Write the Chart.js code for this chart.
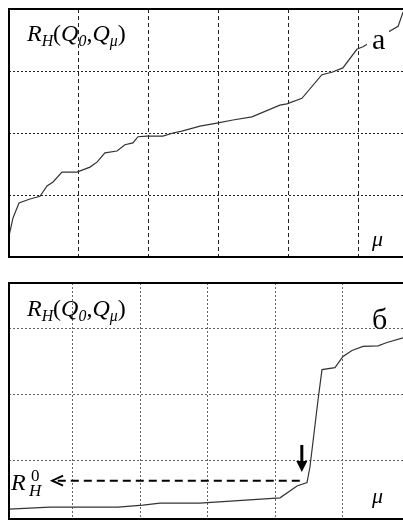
<!DOCTYPE html>
<html>
<head>
<meta charset="utf-8">
<script src="https://cdn.jsdelivr.net/npm/chart.js@4/dist/chart.umd.min.js"></script>
<style>
  html, body { margin: 0; padding: 0; background: #fff; }
  body { width: 403px; height: 523px; position: relative; overflow: hidden; font-family: "Liberation Serif", "DejaVu Serif", serif; }
  canvas { position: absolute; left: 0; }
  .lbl { position: absolute; white-space: nowrap; line-height: 1; color: #000; }
  .lbl i { font-style: italic; }
  .lbl sub { font-size: 0.66em; vertical-align: -0.3em; line-height: 0; }
  .bg { background: #fff; padding: 0 4px 4px 5px; }
</style>
</head>
<body>
<canvas id="chartA" width="403" height="270" style="top:0"></canvas>
<canvas id="chartB" width="403" height="253" style="top:270px"></canvas>

<div class="lbl" style="left:27px; top:21px; font-size:24px"><i>R<sub>H</sub></i>(<i>Q<sub>0</sub></i>,<i>Q<sub>μ</sub></i>)</div>
<div class="lbl bg" style="left:367px; top:24px; font-size:30px">a</div>
<div class="lbl" style="left:372px; top:228px; font-size:22px"><i>μ</i></div>

<div class="lbl" style="left:27px; top:296px; font-size:24px"><i>R<sub>H</sub></i>(<i>Q<sub>0</sub></i>,<i>Q<sub>μ</sub></i>)</div>
<div class="lbl" style="left:372px; top:304px; font-size:30px">б</div>
<div class="lbl" style="left:372px; top:485px; font-size:22px"><i>μ</i></div>
<div class="lbl" style="left:11px; top:470px; font-size:24px"><i>R</i></div>
<div class="lbl" style="left:31px; top:467px; font-size:17px">0</div>
<div class="lbl" style="left:29px; top:482px; font-size:17px"><i>H</i></div>

<script>
// panel a: R_H against mu (x in grid steps)
var muA = [0, 0.057, 0.143, 0.30, 0.443, 0.543, 0.629, 0.757, 0.971, 1.157, 1.257, 1.371, 1.543, 1.657, 1.771, 1.843,
  1.971, 2.2, 2.343, 2.471, 2.729, 2.971, 3.2, 3.471, 3.871, 3.971, 4.186, 4.471, 4.614, 4.771, 4.971, 5.057, 5.56, 5.63];
var rA = [0.34, 0.63, 0.87, 0.935, 0.98, 1.145, 1.21, 1.37, 1.37, 1.45, 1.53, 1.68, 1.71, 1.81, 1.84, 1.94,
  1.95, 1.95, 2.0, 2.03, 2.11, 2.16, 2.21, 2.26, 2.45, 2.47, 2.56, 2.94, 2.98, 3.05, 3.35, 3.39, 3.72, 3.95];

// panel б
var muB = [0.052, 0.66, 1.667, 2.037, 2.289, 2.881, 4.067, 4.319, 4.467, 4.511, 4.63, 4.689, 4.881, 5.0, 5.133, 5.296, 5.519, 5.652, 5.889];
var rB = [0.27, 0.30, 0.30, 0.33, 0.36, 0.36, 0.44, 0.62, 0.67, 0.91, 1.92, 2.38, 2.41, 2.58, 2.67, 2.73, 2.74, 2.79, 2.86];

var gridTicks = [1, 2, 3, 4, 5];
var yTicksA = [1, 2, 3];
var yTicksB = [1, 2, 3];

// R_H^0 marker (panel б)
var r0Level = 0.70;
var r0From = 4.36, r0To = 0.69;
var downX = 4.39, downTop = 1.24, downTip = 0.83;

function points(xs, ys) {
  return xs.map(function (x, i) { return { x: x, y: ys[i] }; });
}

var framePlugin = {
  id: 'frame',
  afterDraw: function (chart) {
    var a = chart.chartArea, ctx = chart.ctx;
    ctx.save();
    ctx.strokeStyle = '#000';
    ctx.lineWidth = 2;
    ctx.beginPath();
    ctx.moveTo(a.right + 2, a.top);
    ctx.lineTo(a.left, a.top);
    ctx.lineTo(a.left, a.bottom);
    ctx.lineTo(a.right + 2, a.bottom);
    ctx.stroke();
    ctx.restore();
  }
};

var arrowPlugin = {
  id: 'arrows',
  afterDatasetsDraw: function (chart) {
    var x = chart.scales.x, y = chart.scales.y, ctx = chart.ctx;
    var yy = y.getPixelForValue(r0Level);
    var x1 = x.getPixelForValue(r0From), x2 = x.getPixelForValue(r0To);
    ctx.save();
    ctx.strokeStyle = '#000';
    ctx.lineWidth = 2;
    ctx.setLineDash([8, 5]);
    ctx.beginPath();
    ctx.moveTo(x1, yy);
    ctx.lineTo(x2, yy);
    ctx.stroke();
    ctx.setLineDash([]);
    ctx.lineWidth = 1.8;
    ctx.beginPath();
    ctx.moveTo(x2 + 11, yy - 5);
    ctx.lineTo(x2, yy);
    ctx.lineTo(x2 + 11, yy + 5);
    ctx.stroke();
    // down arrow
    var dx = x.getPixelForValue(downX), dt = y.getPixelForValue(downTop), dp = y.getPixelForValue(downTip);
    ctx.lineWidth = 3;
    ctx.beginPath();
    ctx.moveTo(dx, dt);
    ctx.lineTo(dx, dp - 9);
    ctx.stroke();
    ctx.fillStyle = '#000';
    ctx.beginPath();
    ctx.moveTo(dx - 5.5, dp - 11);
    ctx.lineTo(dx + 5.5, dp - 11);
    ctx.lineTo(dx, dp);
    ctx.closePath();
    ctx.fill();
    ctx.restore();
  }
};

function makeChart(id, xs, ys, xr, yr, yTicks, pad, xDash, yDash, gridColor, extra) {
  return new Chart(document.getElementById(id).getContext('2d'), {
    type: 'line',
    data: {
      datasets: [{
        data: points(xs, ys),
        borderColor: '#333',
        borderWidth: 1.2,
        pointRadius: 0,
        tension: 0,
        fill: false
      }]
    },
    options: {
      responsive: false,
      animation: false,
      events: [],
      layout: { padding: pad },
      plugins: { legend: { display: false }, tooltip: { enabled: false } },
      scales: {
        x: {
          type: 'linear', min: xr[0], max: xr[1],
          afterBuildTicks: function (s) { s.ticks = gridTicks.map(function (v) { return { value: v }; }); },
          afterFit: function (s) { s.height = 0; },
          ticks: { display: false },
          grid: { color: gridColor, lineWidth: 1, drawTicks: false },
          border: { display: false, dash: xDash }
        },
        y: {
          type: 'linear', min: yr[0], max: yr[1],
          afterBuildTicks: function (s) { s.ticks = yTicks.map(function (v) { return { value: v }; }); },
          afterFit: function (s) { s.width = 0; },
          ticks: { display: false },
          grid: { color: gridColor, lineWidth: 1, drawTicks: false },
          border: { display: false, dash: yDash }
        }
      }
    },
    plugins: [framePlugin].concat(extra)
  });
}

makeChart('chartA', muA, rA, [0, 5.63], [0, 4], yTicksA,
  { left: 9, top: 9, right: 0, bottom: 13 }, [4, 3], [2, 2], '#222', []);
makeChart('chartB', muB, rB, [0.052, 5.889], [0.12, 3.69], yTicksB,
  { left: 9, top: 13, right: 0, bottom: 4 }, [2, 2], [2, 2], '#666', [arrowPlugin]);
</script>
</body>
</html>
